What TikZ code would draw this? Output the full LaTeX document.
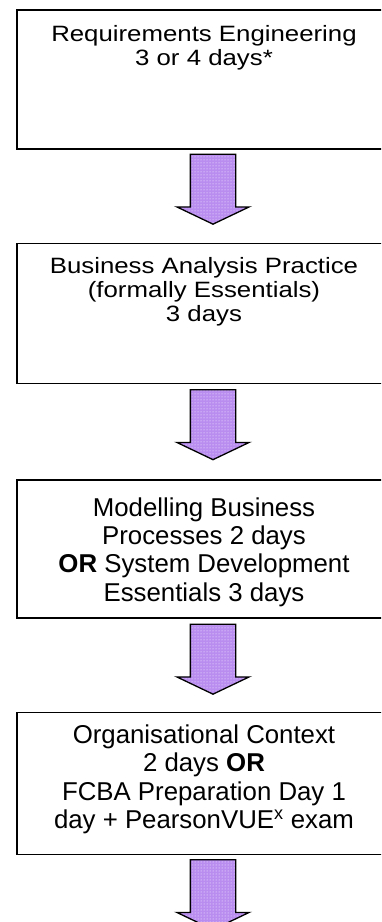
\documentclass[tikz,border=0pt]{standalone}
\usepackage{fontspec}
\setmainfont{Liberation Sans}
\usetikzlibrary{shapes.arrows, patterns, positioning}
\definecolor{lilac}{RGB}{185,140,240}

\tikzset{
  course/.style={draw, line width=1.5pt, minimum width=374pt, minimum height=140pt, inner sep=0pt},
  coursetext/.style={align=center, inner sep=0pt, anchor=north, font=\fontsize{25.8}{28.3}\selectfont},
  squash/.style={yscale=0.86, transform shape},
  fatarrow/.style={single arrow, draw, line width=1.3pt, shape border rotate=270,
    minimum height=70pt, inner sep=22pt, single arrow head extend=13.5pt,
    single arrow tip angle=129,
    preaction={fill=lilac}, pattern=dots, pattern color=white}
}

\begin{document}
\begin{tikzpicture}[x=1pt, y=-1pt]
	\path[use as bounding box] (0,0) rectangle (381,922);
	\clip (0,0) rectangle (381,922);
	% the four course boxes
	\node[course, minimum height=139pt] (b1) at (204,79.5) {};
	\node[course, below=93pt of b1] (b2) {};
	\node[course, minimum height=138pt, below=95pt of b2] (b3) {};
	\node[course, minimum height=142pt, below=93pt of b3] (b4) {};
	
	\node[coursetext, squash] (t1) at ([yshift=-16pt]b1.north) {Requirements Engineering\\3 or 4 days*};
	\node[coursetext, squash] (t2) at ([yshift=-14pt]b2.north) {Business Analysis Practice\\(formally Essentials)\\3 days};
	\node[coursetext] (t3) at ([yshift=-18pt]b3.north) {Modelling Business\\Processes 2 days\\\textbf{OR} System Development\\Essentials 3 days};
	\node[coursetext] (t4) at ([yshift=-13pt]b4.north) {Organisational Context\\2 days \textbf{OR}\\FCBA Preparation Day 1\\day + PearsonVUE\textsuperscript{x} exam};
	
	% arrows between the boxes
	\node[fatarrow] (a1) at ([xshift=9pt, yshift=-34pt]b1.south) {};
	\node[fatarrow] (a2) at ([xshift=9pt, yshift=-35pt]b2.south) {};
	\node[fatarrow] (a3) at ([xshift=9pt, yshift=-35pt]b3.south) {};
	\node[fatarrow] (a4) at ([xshift=9pt, yshift=-34pt]b4.south) {};
\end{tikzpicture}
\end{document}
